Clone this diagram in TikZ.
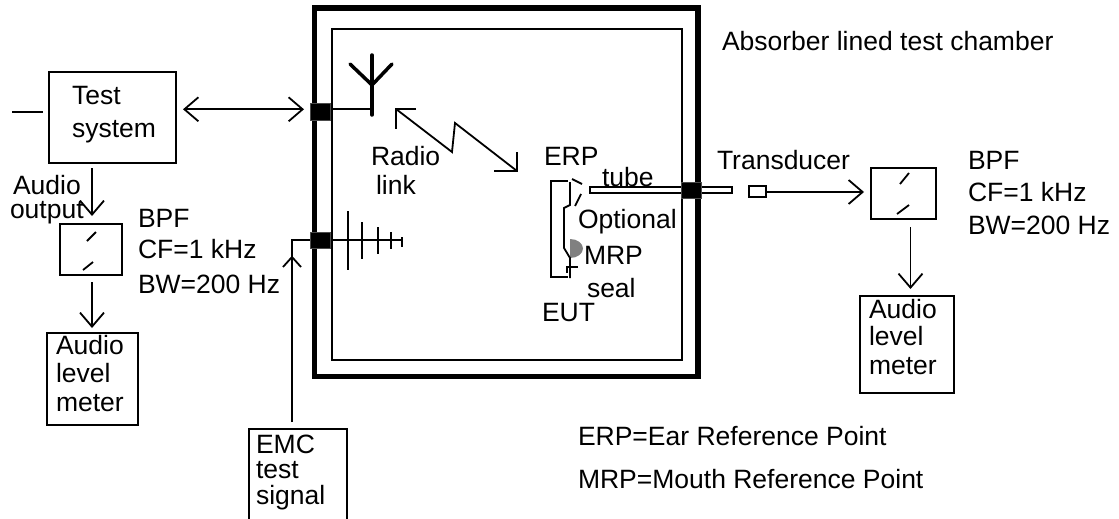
\documentclass[tikz,border=0pt]{standalone}
\usepackage{fontspec}
\setmainfont{Liberation Sans}
\usetikzlibrary{arrows.meta}
\tikzset{
  lbl/.style={anchor=base west,inner sep=0pt,outer sep=0pt,font=\fontsize{26.5}{30}\selectfont},
  boxn/.style={draw,line width=1.9pt,inner sep=0pt,minimum width=#1},
  junct/.style={fill=black,draw=black!70,line width=1pt,inner sep=0pt,minimum width=20pt,minimum height=16.5pt},
  wire/.style={line width=1.8pt},
  arr/.style={wire,-{Straight Barb[length=14pt,width=24pt,line width=1.8pt]}},
  arrb/.style={wire,{Straight Barb[length=14pt,width=24pt,line width=1.8pt]}-{Straight Barb[length=14pt,width=24pt,line width=1.8pt]}},
}
\begin{document}
\begin{tikzpicture}[x=1pt,y=-1pt]
\useasboundingbox (0,0) rectangle (1119,519);
% chamber
\node (outer) at (506.25,192.25) [draw,line width=5.8pt,minimum width=383.5pt,minimum height=368.5pt,inner sep=0pt] {};
\node (inner) at (507,194.5) [draw,line width=1.9pt,minimum width=350pt,minimum height=331pt,inner sep=0pt] {};
% boxes
\node (ts) at (112.5,117.5) [boxn=127pt,minimum height=91pt] {};
\node (bl) at (91,249.5) [boxn=62pt,minimum height=51pt] {};
\node (ml) at (92.5,379) [boxn=91pt,minimum height=92pt] {};
\node (br) at (903.5,193.5) [boxn=65pt,minimum height=51pt] {};
\node (mr) at (907,344.5) [boxn=94pt,minimum height=97pt] {};
\node (emc) at (298,480) [boxn=98pt,minimum height=102pt] {};
% tube and junctions
\node (tube) at (661,190) [draw,fill=white,line width=1.8pt,minimum width=142pt,minimum height=6pt,inner sep=0pt] {};
\node (j1) at (320.5,112) [junct] {};
\node (j2) at (320.5,240.5) [junct] {};
\node (j3) at (691,190.5) [junct] {};
\node (tr) at (757.5,191.5) [draw,line width=1.8pt,minimum width=17pt,minimum height=11pt,inner sep=0pt] {};
% coordinates
\coordinate (ts1) at (183,109.3); \coordinate (j1w) at (304,109.3);
\coordinate (j1e) at (j1.east|-ts1);
\coordinate (a1) at (372,109.3);
\coordinate (a1b) at (372,115);
\coordinate (a2) at (372,55);
\coordinate (a3) at (372,85);
\coordinate (a4) at (350,64);
\coordinate (a5) at (392,64);
\coordinate (free) at (12,112);
\coordinate (free2) at (43,112);
\coordinate (c1) at (292,240);
\coordinate (c0) at (292,422);
\coordinate (c2) at (402,240);
\coordinate (j2w) at (j2.west|-c1);
\coordinate (r1) at (396,109);
\coordinate (r2) at (452,152);
\coordinate (r3) at (455,123);
\coordinate (r4) at (517,171);
\coordinate (a6) at (92,168); \coordinate (a7) at (92,216);
\coordinate (a8) at (92,282); \coordinate (a9) at (92,328);
\coordinate (a10) at (910.5,227); \coordinate (a11) at (910.5,289);
\coordinate (tre) at (766,192); \coordinate (tra) at (864,192);
% connectors
\draw[wire] (free) -- (free2);
\draw[arrb] (ts1) -- (j1w);
\draw[wire] (j1e) -- (a1);
\draw[line width=3.5pt,line cap=round] (a2) -- (a1b);
\draw[line width=3.5pt,line cap=round] (a4) -- (a3) -- (a5);
\draw[wire] (c0) -- (c1) -- (j2w);
\draw[wire] (283,267) -- (292,257) -- (301,267);
\draw[wire] (j2.east|-c1) -- (c2);
\foreach \x/\a/\b in {348/211/270,362/222/259,378/227/254,391/232/249,402/237/247}
  \draw[line width=1.9pt] (\x,\a) -- (\x,\b);
\draw[wire] (r1) -- (r2) -- (r3) -- (r4);
\draw[wire] (416,109) -- (r1) -- (396,129);
\draw[wire] (494,171) -- (r4) -- (517,152);
\draw[arr] (a6) -- (a7);
\draw[arr] (a8) -- (a9);
\draw[arr] (tre) -- (tra);
\draw[arr] (a10) -- (a11);
% filter slashes
\draw[wire] (87,241) -- (96,232);
\draw[wire] (83,270) -- (93,262);
\draw[wire] (900,184) -- (909,173);
\draw[wire] (897,214) -- (909,205);
% EUT
\fill[black!50] (570,258) arc (90:-90:13 and 9.5) -- cycle;
\draw[wire] (568,181) -- (551,181) -- (551,277) -- (568,277);
\draw[wire] (570,182) -- (570,205) -- (564,208) -- (564,248) -- (570,258) -- (570,278);
\draw[wire] (572,179) -- (582,184);
\draw[wire] (581,194) -- (575,206);
\draw[line width=2pt] (567,273) -- (567,267) -- (578,267);
% labels
\node[lbl] (t1) at (722,51) {Absorber lined test chamber};
\node[lbl] (t2) at (72,104) {Test};
\node[lbl] (t3) at (72,137) {system};
\node[lbl] (t4) at (13,194) {Audio};
\node[lbl] (t5) at (10,218) {output};
\node[lbl] (t6) at (138,227) {BPF};
\node[lbl] (t7) at (138,258) {CF=1 kHz};
\node[lbl] (t8) at (138,293) {BW=200 Hz};
\node[lbl] (t9) at (56,354) {Audio};
\node[lbl] (t10) at (56,382) {level};
\node[lbl] (t11) at (56,411) {meter};
\node[lbl] (t12) at (256,453) {EMC};
\node[lbl] (t13) at (256,478) {test};
\node[lbl] (t14) at (256,504) {signal};
\node[lbl] (t15) at (371,165) {Radio};
\node[lbl] (t16) at (376,194) {link};
\node[lbl] (t17) at (544,165) {ERP};
\node[lbl] (t18) at (602,186) {tube};
\node[lbl] (t19) at (578,228) {Optional};
\node[lbl] (t20) at (584,264) {MRP};
\node[lbl] (t21) at (587,297) {seal};
\node[lbl] (t22) at (542,321) {EUT};
\node[lbl] (t23) at (717,169) {Transducer};
\node[lbl] (t24) at (968,169) {BPF};
\node[lbl] (t25) at (968,201) {CF=1 kHz};
\node[lbl] (t26) at (968,234) {BW=200 Hz};
\node[lbl] (t27) at (869,318) {Audio};
\node[lbl] (t28) at (869,345) {level};
\node[lbl] (t29) at (869,374) {meter};
\node[lbl] (t30) at (578,445) {ERP=Ear Reference Point};
\node[lbl] (t31) at (578,488) {MRP=Mouth Reference Point};
\end{tikzpicture}
\end{document}
